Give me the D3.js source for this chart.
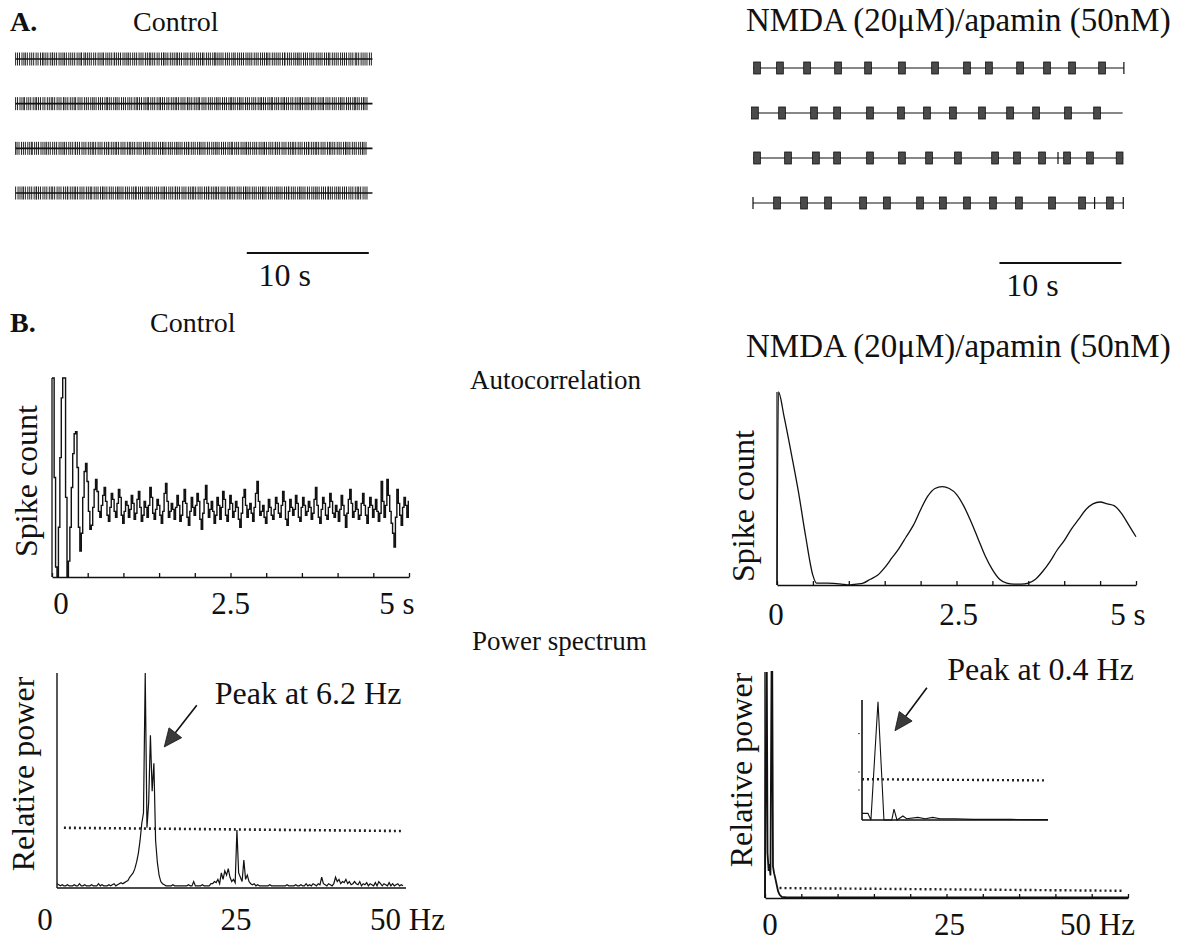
<!DOCTYPE html>
<html><head><meta charset="utf-8">
<script src="https://cdn.jsdelivr.net/npm/d3@7"></script>
<style>
body{margin:0;background:#fff}
svg{display:block}
text{font-family:"Liberation Serif","Times New Roman",serif;fill:#111}
</style>
</head><body>
<svg id="c" width="1187" height="945"></svg>
<script>
// ---------------- DATA ----------------
const sectionLabels = ["A.", "B."];
const conditionNames = ["Control", "NMDA (20\u03bcM)/apamin (50nM)"];
const rowTitles = ["Autocorrelation", "Power spectrum"];
const yTitles = ["Spike count", "Relative power"];
const scaleBarLabel = "10 s";
const scaleBarSeconds = 10;
const acTickValues = [0, 2.5, 5];
const acTickLabels = ["0", "2.5", "5 s"];
const psTickValues = [0, 25, 50];
const psTickLabels = ["0", "25", "50 Hz"];
const peakLabels = ["Peak at 6.2 Hz", "Peak at 0.4 Hz"];

// Control raster: inter-spike intervals, each digit = n x 40 ms
const ctrlRowDuration = 29.3;
const ctrlISI = [
  "445434544545434454144544345444544153444545443544451444544345445445443445454144544434454454454443544541444454454354445444544544434544445415445443454454454445443544454445445345444544",
  "454415445434454544345445144544354454454345445414454345445445434454415445434454544345445144544354454454345445414454345445445434454415445434454544345445144544354454454345445414454345",
  "345445441544544344544544345445144544544345445441544345445434454454144544544345445434454415445434454544345445441544544344544544345445144544544345445441544345445434454454144544544345",
  "544345445414454454345445441544345445443544541445445434454454415445434454454345445144544544345445441544345445434454454144544544345445434454415445434454544345445144544354454454345445"
];

// NMDA/apamin raster: burst times (s), isolated single spikes (s), end of trace (s)
const nmdaBurstDuration = 0.55;
const nmdaBursts = [
  [0.33, 2.21, 4.43, 6.97, 9.43, 12.21, 14.92, 17.54, 19.34, 21.89, 24.1, 26.15, 28.61],
  [0.16, 2.38, 5.0, 6.89, 9.59, 12.13, 14.26, 16.39, 18.77, 21.07, 23.2, 25.82, 28.2],
  [0.33, 2.87, 5.16, 6.89, 9.59, 12.21, 14.43, 16.8, 19.84, 21.64, 23.69, 25.74, 27.62, 30.05],
  [1.97, 4.18, 6.15, 9.02, 10.98, 13.69, 15.57, 17.54, 19.67, 21.8, 24.51, 26.97, 29.26]
];
const nmdaSingles = [[30.4], [], [25.0], [0.0, 28.0, 30.35]];
const nmdaRowEnds = [30.4, 30.3, 30.35, 30.35];

// Autocorrelation, control: spike count (relative, 0-100) every 20 ms from 0 to 5 s
const acCtrlStep = 0.02;
const acCtrlValues = [
  100,100,50,5,0,25,60,90,100,100,
  40,0,8,25,45,62,72,73,55,25,
  13,22,40,53,57,48,33,24,26,35,
  44,49,43,33,30,36,41,45,38,31,
  28,35,42,39,33,30,37,44,40,31,
  27,33,38,36,30,34,41,37,29,32,
  39,43,35,28,31,38,35,30,36,45,
  40,32,29,34,39,36,31,27,33,42,
  47,38,30,33,37,34,29,35,41,36,
  28,31,38,44,37,30,26,33,40,35,
  31,36,42,38,29,24,32,39,46,37,
  30,34,38,33,27,31,40,36,29,35,
  43,39,31,28,34,41,37,30,33,38,
  35,29,25,32,40,44,36,30,34,37,
  32,28,35,42,48,38,31,33,36,30,
  27,33,39,35,31,29,34,40,37,32,
  30,36,43,38,29,26,33,39,35,31,
  34,41,37,30,28,35,40,36,31,33,
  38,35,29,32,39,45,36,30,27,34,
  40,37,31,29,35,42,38,32,30,36,
  33,28,34,41,36,31,25,32,39,44,
  37,30,33,38,34,29,31,37,42,36,
  31,27,35,40,36,30,34,39,33,28,
  32,48,38,30,36,49,41,33,27,22,
  15,30,44,37,31,26,35,40,36,30,
  38
];

// Autocorrelation, NMDA/apamin: [lag s, spike count 0-100]
const acNmda = [
  [0,0],[0.02,100],[0.1,87],[0.2,68],[0.3,48],[0.4,25],[0.5,5],[0.55,1],[0.7,1],[0.9,0.5],
  [1.0,0],[1.1,0.5],[1.2,1],[1.3,3],[1.4,5],[1.5,9],[1.6,14],[1.7,19],[1.8,25],[1.9,31],
  [2.0,39],[2.1,46],[2.2,50],[2.3,51],[2.4,50],[2.5,47],[2.6,41],[2.7,33],[2.8,24],[2.9,15],
  [3.0,8],[3.1,3],[3.2,1],[3.3,0.5],[3.4,0.5],[3.5,1],[3.6,3],[3.7,7],[3.8,12],[3.9,18],
  [4.0,23],[4.1,29],[4.2,34],[4.3,39],[4.4,42],[4.5,43],[4.6,42],[4.7,41],[4.8,37],[4.9,31],[5.0,25]
];

// Power spectrum, control: relative power every 0.25 axis units, 0-50
const psCtrlStep = 0.25;
const psCtrlValues = [
  2,1.5,1,1.5,1,1,1.5,1,1,
  1,1.5,1,1,2,1,1,1.5,1,1,1,
  1.5,1,1,1,2,1,1.5,1,1,1,
  1.5,1,1.5,2,1,1.5,2,2.5,2,2.5,
  3,3.5,5,6,7,9,12,16,22,30,
  35,100,28,40,71,45,58,22,12,6,
  3,2,1.5,1,1,1,1,1.5,1,1,
  1,1,1,1,1,1,1.5,1,1,3,
  1,1,1,1,1.5,1,1,1,1,2,
  2,3,2.5,4,2,7,4,8,6,9,
  5,3,4,2.5,27,7,5,3,13,4,
  6,3,2,1.5,2,1,1.5,1,1,1,
  1,1,1,1.5,1,1,1,1,1,1,
  1,1,1,1.5,1,1,1,1,1.5,1,
  1,1.5,1,1,2,1,1.5,1,2,1.5,
  1,2,1.5,5,2,1.5,1,2,1.5,1,
  2,5,3,4,2,3,2.5,4,2,3,
  1.5,2,3,2,1.5,3,1,2,1.5,2.5,
  1,2,1.5,1,2.5,1,3,2,1,2,
  1.5,1,2.5,1,2,1,1.5,2,1,1.5,
  1
];
const psCtrlThreshold = [[1, 28], [50, 26.5]];

// Power spectrum, NMDA/apamin: [Hz, relative power]
const psNmda = [
  [0,0],[0.1,60],[0.25,100],[0.35,20],[0.5,12],[0.6,15],[0.75,10],[0.9,100],[1.0,100],[1.1,14],
  [1.25,11],[1.4,9],[1.6,6],[1.8,3],[2.0,1.5],[2.3,0.5],[3,0.3],[50,0.3]
];
const psNmdaThreshold = [[2, 4.4], [49.3, 3.2]];

// Inset (0-5 Hz zoom of NMDA spectrum)
const psInset = [
  [0,5.5],[0.16,5.5],[0.24,0],[0.43,98.6],[0.59,0],[0.8,0],[0.86,9],[0.94,0],[1.1,3.3],[1.2,1],
  [1.5,2.2],[1.7,1],[1.9,2.2],[2.1,1],[2.5,1],[3,0.5],[4,0.5],[5,0.3]
];
const psInsetThreshold = [[0, 34], [4.9, 33]];
const psInsetYTicks = [25, 40, 72];

// ---------------- DRAWING ----------------
const svg = d3.select("#c");
const FS = 32;      // axis titles, annotations
const FS_TICK = 31; // tick labels
const FS_HEAD = 28; // "Control", section letters
const FS_ROW = 27;  // row titles
const FS_NMDA = 33;
const ink = "#111";

function txt(x, y, s, o = {}) {
  const t = svg.append("text").attr("x", x).attr("y", y)
    .attr("font-size", o.size || FS).attr("text-anchor", o.anchor || "start").text(s);
  if (o.bold) t.attr("font-weight", "bold");
  return t;
}
function vtxt(x, y, s) {
  svg.append("text").attr("transform", `translate(${x},${y}) rotate(-90)`)
    .attr("font-size", FS).attr("text-anchor", "middle").text(s);
}
function hline(x1, x2, y, w = 1.3, dash = null, col = ink) {
  const l = svg.append("line").attr("x1", x1).attr("x2", x2).attr("y1", y).attr("y2", y)
    .attr("stroke", col).attr("stroke-width", w);
  if (dash) l.attr("stroke-dasharray", dash);
}
function vline(x, y1, y2, w = 1.3, col = ink) {
  svg.append("line").attr("x1", x).attr("x2", x).attr("y1", y1).attr("y2", y2)
    .attr("stroke", col).attr("stroke-width", w);
}

// ---- Panel A headings
txt(10, 31, sectionLabels[0], { bold: true, size: FS_HEAD });
txt(133, 31, conditionNames[0], { size: FS_HEAD });
txt(746, 31, conditionNames[1], { size: FS_NMDA });

// ---- Control raster
const rxL = d3.scaleLinear().domain([0, 30]).range([15, 15 + 366]);
const ryL = d3.scalePoint().domain(d3.range(4)).range([59, 193]);
ctrlISI.forEach((s, r) => {
  const y = ryL(r);
  const times = [];
  let t = 0.05;
  for (const ch of s) {
    if (t > ctrlRowDuration) break;
    times.push(t);
    t += (+ch) * 0.04;
  }
  const g = svg.append("g");
  g.selectAll("line").data(times).join("line")
    .attr("x1", d => rxL(d)).attr("x2", d => rxL(d))
    .attr("y1", y - 6.5).attr("y2", y + 6.5)
    .attr("stroke", "#222").attr("stroke-width", 1);
  hline(rxL(0.05), rxL(ctrlRowDuration), y, 1.6);
});
// scale bar
hline(rxL(19), rxL(19 + scaleBarSeconds), 253, 2);
txt(rxL(19) + 38, 286, scaleBarLabel, { anchor: "middle" });

// ---- NMDA raster
const rxR = d3.scaleLinear().domain([0, 30]).range([753, 753 + 366]);
const ryR = d3.scalePoint().domain(d3.range(4)).range([68, 203]);
nmdaBursts.forEach((bursts, r) => {
  const y = ryR(r);
  hline(rxR(0), rxR(nmdaRowEnds[r]), y, 1.2);
  svg.append("g").selectAll("rect").data(bursts).join("rect")
    .attr("x", d => rxR(d) - (rxR(nmdaBurstDuration) - rxR(0)) / 2)
    .attr("width", rxR(nmdaBurstDuration) - rxR(0))
    .attr("y", y - 6).attr("height", 12)
    .attr("fill", "#4a4a4a").attr("stroke", "#111").attr("stroke-width", 0.8);
  svg.append("g").selectAll("line").data(nmdaSingles[r]).join("line")
    .attr("x1", d => rxR(d)).attr("x2", d => rxR(d))
    .attr("y1", y - 6).attr("y2", y + 6)
    .attr("stroke", ink).attr("stroke-width", 1.2);
});
hline(rxR(20.2), rxR(20.2 + scaleBarSeconds), 263, 2);
txt(rxR(20.2) + 33, 296, scaleBarLabel, { anchor: "middle" });

// ---- Panel B headings
txt(10, 332, sectionLabels[1], { bold: true, size: FS_HEAD });
txt(150, 332, conditionNames[0], { size: FS_HEAD });
txt(746, 357, conditionNames[1], { size: FS_NMDA });
txt(470, 389, rowTitles[0], { size: FS_ROW });
txt(472, 650, rowTitles[1], { size: FS_ROW });

// ---- Autocorrelation, control
{
  const x = d3.scaleLinear().domain([0, 5]).range([52, 409]);
  const y = d3.scaleLinear().domain([0, 100]).range([577, 378]);
  const ax = svg.append("g").attr("transform", `translate(0,${y(0)})`)
    .call(d3.axisBottom(x).tickValues(d3.range(0, 5.001, 0.5)).tickSize(-4).tickSizeOuter(0).tickFormat(""));
  ax.selectAll("path,line").attr("stroke", ink).attr("stroke-width", 1.3);
  vline(x(0), y(0), y(100), 1.3);
  const data = acCtrlValues.map((v, i) => [i * acCtrlStep, v]);
  svg.append("path").datum(data)
    .attr("d", d3.line().x(d => x(d[0])).y(d => y(Math.min(100, d[1]))).curve(d3.curveStep))
    .attr("fill", "none").attr("stroke", ink).attr("stroke-width", 1.4);
  const offs = [9, 0, -12];
  acTickValues.forEach((v, i) => txt(x(v) + offs[i], 614, acTickLabels[i], { anchor: "middle", size: FS_TICK }));
  vtxt(37, 481, yTitles[0]);
}

// ---- Autocorrelation, NMDA
{
  const x = d3.scaleLinear().domain([0, 5]).range([777, 1136]);
  const y = d3.scaleLinear().domain([0, 100]).range([585, 392]);
  const ax = svg.append("g").attr("transform", `translate(0,${y(0)})`)
    .call(d3.axisBottom(x).tickValues(d3.range(0, 5.001, 0.5)).tickSize(-4).tickSizeOuter(0).tickFormat(""));
  ax.selectAll("path,line").attr("stroke", ink).attr("stroke-width", 1.3);
  vline(x(0), y(0), y(100), 1.2);
  svg.append("path").datum(acNmda)
    .attr("d", d3.line().x(d => x(d[0])).y(d => y(d[1])).curve(d3.curveMonotoneX))
    .attr("fill", "none").attr("stroke", ink).attr("stroke-width", 1.3);
  const offs = [-1, 2, -8];
  acTickValues.forEach((v, i) => txt(x(v) + offs[i], 625, acTickLabels[i], { anchor: "middle", size: FS_TICK }));
  vtxt(754, 506, yTitles[0]);
}

function arrow(x1, y1, x2, y2) {
  const a = Math.atan2(y2 - y1, x2 - x1), L = 18, W = 8;
  const bx = x2 - L * Math.cos(a), by = y2 - L * Math.sin(a);
  svg.append("line").attr("x1", x1).attr("y1", y1).attr("x2", bx).attr("y2", by)
    .attr("stroke", ink).attr("stroke-width", 1.6);
  svg.append("path").attr("d", `M${x2},${y2}L${bx + W * Math.sin(a)},${by - W * Math.cos(a)}L${bx - W * Math.sin(a)},${by + W * Math.cos(a)}Z`)
    .attr("fill", "#3a3a3a").attr("stroke", ink).attr("stroke-width", 0.8);
}

// ---- Power spectrum, control
{
  const x = d3.scaleLinear().domain([0, 50]).range([57, 403]);
  const y = d3.scaleLinear().domain([0, 100]).range([888, 673]);
  hline(x(0), x(50) + 3, y(0), 1.4);
  vline(x(0), y(0), y(100), 1.4);
  const data = psCtrlValues.map((v, i) => [i * psCtrlStep, v]);
  svg.append("path").datum(data)
    .attr("d", d3.line().x(d => x(d[0])).y(d => y(d[1])))
    .attr("fill", "none").attr("stroke", ink).attr("stroke-width", 1.2);
  svg.append("path").datum(psCtrlThreshold)
    .attr("d", d3.line().x(d => x(d[0])).y(d => y(d[1])))
    .attr("fill", "none").attr("stroke", "#222").attr("stroke-width", 2.6).attr("stroke-dasharray", "2,3");
  const offs = [-12, 6, -33];
  const anchors = ["middle", "middle", "start"];
  psTickValues.forEach((v, i) => txt(x(v) + offs[i], 930, psTickLabels[i], { anchor: anchors[i], size: FS_TICK }));
  vtxt(34, 774, yTitles[1]);
  arrow(x(20.2), y(85), x(15.5), y(65.6));
  txt(x(22.8), y(85.5), peakLabels[0]);
}

// ---- Power spectrum, NMDA
{
  const x = d3.scaleLinear().domain([0, 50]).range([765, 1128]);
  const y = d3.scaleLinear().domain([0, 100]).range([898, 672]);
  const ax = svg.append("g").attr("transform", `translate(0,${y(0)})`)
    .call(d3.axisBottom(x).tickValues(d3.range(0, 50.001, 5)).tickSize(-4).tickSizeOuter(0).tickFormat(""));
  ax.selectAll("path,line").attr("stroke", ink).attr("stroke-width", 1.3);
  vline(x(0), y(0), y(100), 1.4);
  svg.append("path").datum(psNmda)
    .attr("d", d3.line().x(d => x(d[0])).y(d => y(d[1])))
    .attr("fill", "none").attr("stroke", ink).attr("stroke-width", 1.8);
  svg.append("path").datum(psNmdaThreshold)
    .attr("d", d3.line().x(d => x(d[0])).y(d => y(d[1])))
    .attr("fill", "none").attr("stroke", "#222").attr("stroke-width", 2.4).attr("stroke-dasharray", "2,3");
  const offs = [5, 3, 7];
  const anchors = ["middle", "middle", "end"];
  psTickValues.forEach((v, i) => txt(x(v) + offs[i], 935, psTickLabels[i], { anchor: anchors[i], size: FS_TICK }));
  vtxt(752, 770, yTitles[1]);
  arrow(x(22.3), y(93), x(17.9), y(74));
  txt(x(25.1), y(96.5), peakLabels[1]);

  // inset
  const ix = d3.scaleLinear().domain([0, 5]).range([862, 1048]);
  const iy = d3.scaleLinear().domain([0, 100]).range([820, 700]);
  hline(ix(0), ix(5), iy(0), 1.4);
  vline(ix(0), iy(0), iy(100), 1.6);
  svg.append("g").selectAll("line").data(psInsetYTicks).join("line")
    .attr("x1", ix(0) - 4).attr("x2", ix(0) - 2).attr("y1", d => iy(d)).attr("y2", d => iy(d))
    .attr("stroke", "#555").attr("stroke-width", 1);
  svg.append("path").datum(psInset)
    .attr("d", d3.line().x(d => ix(d[0])).y(d => iy(d[1])))
    .attr("fill", "none").attr("stroke", ink).attr("stroke-width", 1.1);
  svg.append("path").datum(psInsetThreshold)
    .attr("d", d3.line().x(d => ix(d[0])).y(d => iy(d[1])))
    .attr("fill", "none").attr("stroke", "#222").attr("stroke-width", 2.4).attr("stroke-dasharray", "2,3");
}
</script>
</body></html>
